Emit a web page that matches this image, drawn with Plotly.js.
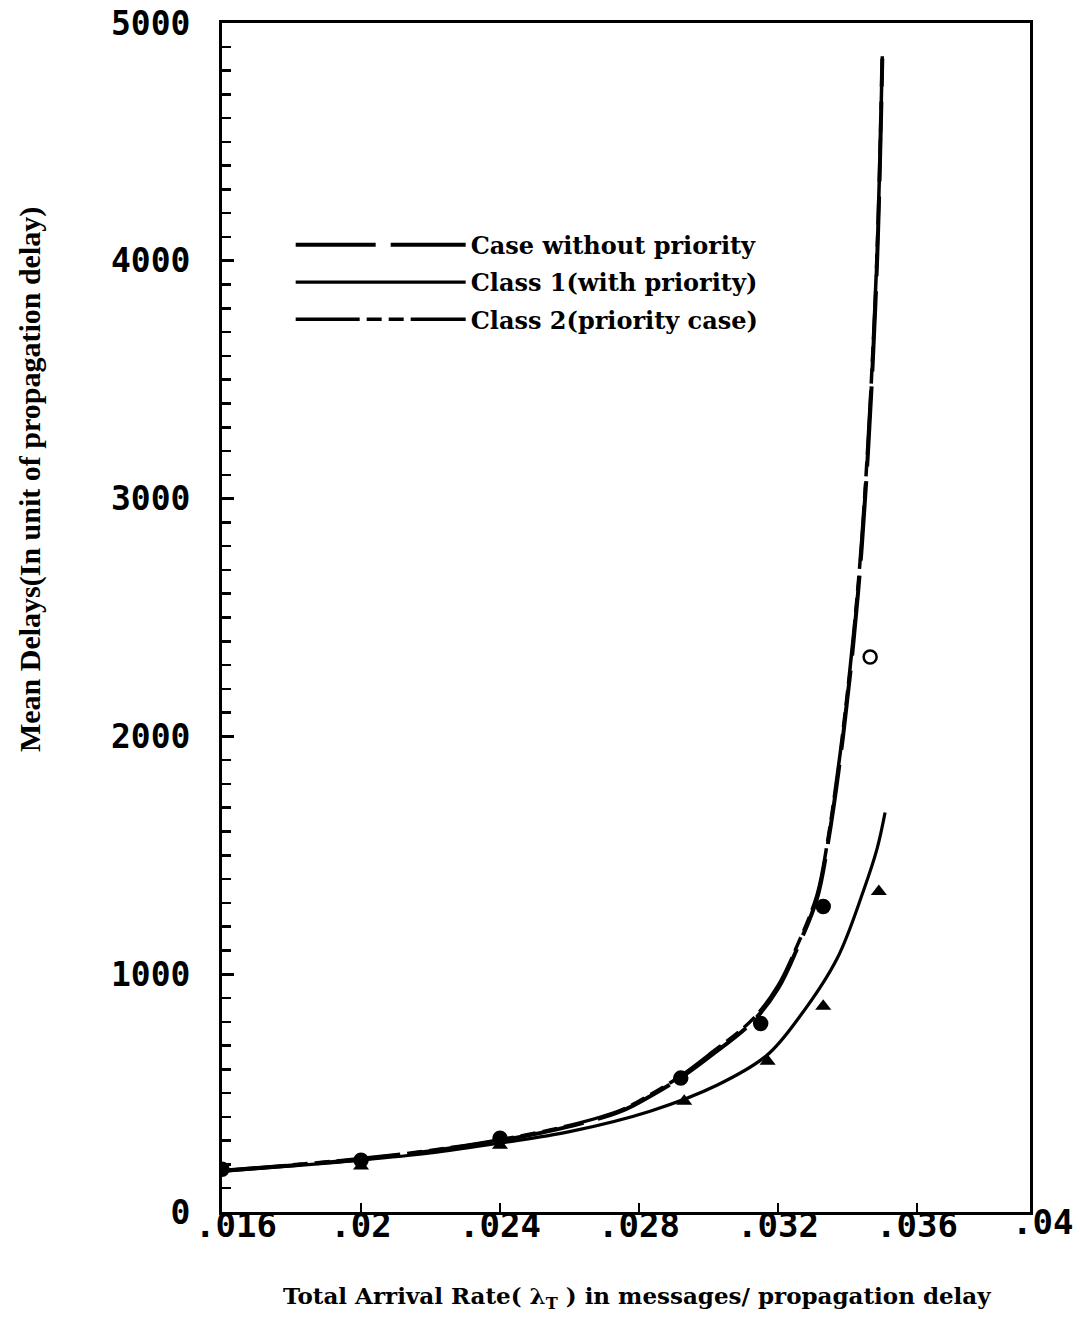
<!DOCTYPE html>
<html>
<head>
<meta charset="utf-8">
<script src="https://cdn.plot.ly/plotly-3.0.1.min.js"></script>
<style>
  html, body { margin: 0; padding: 0; background: #fff; }
  #chart { width: 1080px; height: 1319px; }
</style>
</head>
<body>
<div id="chart"></div>
<script>
// Analytical mean-delay curves (arrival rate vs. delay)
const rateNoPriority = [0.016, 0.018, 0.020, 0.022, 0.024, 0.026, 0.0275, 0.02832, 0.02918, 0.030, 0.03128, 0.032, 0.03255, 0.03312, 0.03341, 0.03387, 0.0343, 0.03459, 0.03485, 0.0350];
const delayNoPriority = [172, 196, 222, 256, 300, 360, 425, 487, 563, 650, 802, 940, 1108, 1318, 1528, 2000, 2600, 3200, 4000, 4850];

const rateClass1 = [0.016, 0.018, 0.020, 0.022, 0.024, 0.026, 0.02832, 0.03024, 0.03168, 0.03263, 0.0337, 0.03445, 0.03485, 0.03508];
const delayClass1 = [172, 194, 218, 248, 290, 338, 424, 533, 659, 823, 1066, 1348, 1528, 1680];

const rateClass2 = [0.016, 0.018, 0.020, 0.022, 0.024, 0.026, 0.0275, 0.02832, 0.02918, 0.030, 0.03128, 0.032, 0.03255, 0.03312, 0.03341, 0.03387, 0.0343, 0.03459, 0.03485, 0.0350];
const delayClass2 = [174, 198, 225, 259, 304, 364, 430, 493, 570, 660, 812, 952, 1120, 1332, 1545, 2025, 2630, 3240, 4040, 4860];

// Simulation points
const rateCircles = [0.016, 0.020, 0.024, 0.0292, 0.0315, 0.0333, 0.03465];
const delayCircles = [180, 218, 310, 563, 793, 1285, 2334];
const circleSymbols = ['circle', 'circle', 'circle', 'circle', 'circle', 'circle', 'circle-open'];

const rateTriangles = [0.020, 0.024, 0.0293, 0.0317, 0.0333, 0.0349];
const delayTriangles = [193, 281, 466, 634, 865, 1348];

// Axis ticks
const xTickVals = [0.016, 0.020, 0.024, 0.028, 0.032, 0.036];
const xTickText = ['.016', '.02', '.024', '.028', '.032', '.036'];
const xEdgeLabel = '.04';
const yTickVals = [0, 1000, 2000, 3000, 4000, 5000];

const seriesNames = ['Case without priority', 'Class 1(with priority)', 'Class 2(priority case)'];
const xTitle = 'Total Arrival Rate( λ<sub>T</sub> ) in messages/ propagation delay';
const yTitle = 'Mean Delays(In unit of propagation delay)';

const serif = '"DejaVu Serif", "Liberation Serif", serif';
const condSerif = '"Liberation Serif", "DejaVu Serif", serif';
const mono = '"DejaVu Sans Mono", monospace';
const tickFont = { family: mono, size: 34, color: '#000', weight: 'bold' };

// The first x label sits a little right of its tick so it clears the "0" of the y axis
const xTickShown = xTickText.map((t, i) => (i === 0 ? '' : t));

const traces = [
  {
    x: rateNoPriority, y: delayNoPriority, name: seriesNames[0], legendgroup: 'a', mode: 'lines',
    line: { color: '#000', width: 4, dash: '80px,15px', shape: 'spline', smoothing: 1 }
  },
  {
    x: rateClass1, y: delayClass1, name: seriesNames[1], legendgroup: 'b', mode: 'lines',
    line: { color: '#000', width: 3.2, shape: 'spline', smoothing: 1 }
  },
  {
    x: rateClass2, y: delayClass2, name: seriesNames[2], legendgroup: 'c', mode: 'lines',
    line: { color: '#000', width: 3.5, dash: '64px,7px,15px,7px,15px,7px', shape: 'spline', smoothing: 1 }
  },
  {
    x: rateCircles, y: delayCircles, mode: 'markers', showlegend: false,
    marker: { color: '#000', size: 13, symbol: circleSymbols, line: { color: '#000', width: 2.5 } }
  },
  {
    x: rateTriangles, y: delayTriangles, mode: 'markers', showlegend: false,
    marker: { color: '#000', size: 14, symbol: 'triangle-up' }
  }
];

const layout = {
  width: 1080,
  height: 1319,
  margin: { l: 222, r: 50, t: 23, b: 107 },
  paper_bgcolor: '#fff',
  plot_bgcolor: '#fff',
  showlegend: true,
  legend: {
    x: 0.085, y: 0.832, xanchor: 'left', yanchor: 'top',
    bgcolor: 'rgba(0,0,0,0)',
    itemwidth: 170,
    tracegroupgap: 3,
    font: { family: serif, size: 24, color: '#000', weight: 'bold' }
  },
  xaxis: {
    range: [0.016, 0.03925],
    tickvals: xTickVals,
    ticktext: xTickShown,
    ticks: 'inside', ticklen: 9, tickwidth: 2.5, tickcolor: '#000',
    ticklabelstandoff: -19,
    showline: true, linecolor: '#000', linewidth: 3, mirror: true,
    showgrid: false, zeroline: false,
    tickfont: tickFont
  },
  yaxis: {
    range: [0, 5000],
    tickvals: yTickVals,
    ticks: 'inside', ticklen: 12, tickwidth: 3, tickcolor: '#000',
    minor: { dtick: 100, ticks: 'inside', ticklen: 9, tickwidth: 2.5, tickcolor: '#000' },
    showline: true, linecolor: '#000', linewidth: 3, mirror: true,
    showgrid: false, zeroline: false,
    ticklabelstandoff: 22,
    tickfont: { family: mono, size: 33, color: '#000', weight: 'bold' }
  },
  annotations: [
    {
      text: yTitle,
      xref: 'paper', yref: 'paper', x: -0.2376, y: 0.6156,
      xanchor: 'center', yanchor: 'middle', textangle: -90, showarrow: false,
      font: { family: condSerif, size: 30, color: '#000', weight: 'bold' }
    },
    {
      text: xTitle,
      xref: 'paper', yref: 'paper', x: 0.5136, y: -0.0715,
      xanchor: 'center', yanchor: 'middle', showarrow: false,
      font: { family: serif, size: 23, color: '#000', weight: 'bold' }
    },
    {
      text: xTickText[0],
      xref: 'x', yref: 'paper', x: xTickVals[0], y: 0, xshift: 14, yshift: 9,
      xanchor: 'center', yanchor: 'top', showarrow: false,
      font: tickFont
    },
    {
      text: xEdgeLabel,
      xref: 'paper', yref: 'paper', x: 1, y: 0, xshift: 12, yshift: 12,
      xanchor: 'center', yanchor: 'top', showarrow: false,
      font: tickFont
    }
  ]
};

Plotly.newPlot('chart', traces, layout, { displayModeBar: false, staticPlot: true });
</script>
</body>
</html>
